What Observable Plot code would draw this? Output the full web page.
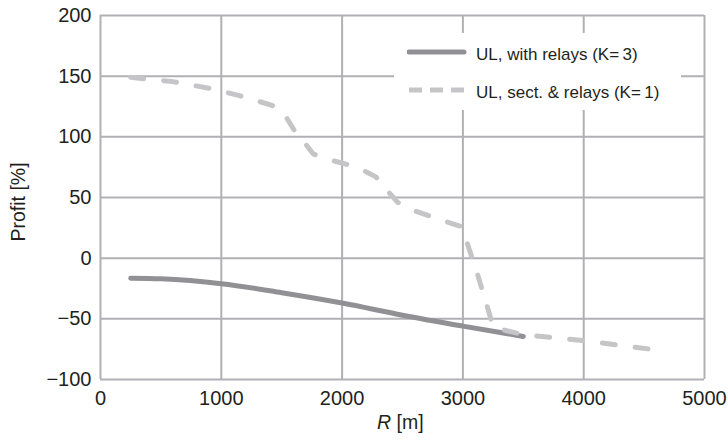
<!DOCTYPE html>
<html>
<head>
<meta charset="utf-8">
<script src="https://cdn.jsdelivr.net/npm/d3@7"></script>
<script src="https://cdn.jsdelivr.net/npm/@observablehq/plot@0.6"></script>
<style>
  body { margin: 0; background: #fff; font-family: "Liberation Sans", Arial, sans-serif; }
  #wrap { position: relative; width: 728px; height: 443px; overflow: hidden; }
  #wrap svg text { font-family: "Liberation Sans", Arial, sans-serif; }
  .lab { position: absolute; font-size: 19.5px; line-height: 1; color: #231f20; white-space: nowrap; }
  #legend { position: absolute; left: 394px; top: 33px; width: 287px; height: 77px; background: #fff; }
  #legend .row { position: absolute; left: 0; display: flex; align-items: center; font-size: 17px; line-height: 1; color: #231f20; }
</style>
</head>
<body>
<div id="wrap"></div>
<script>
// ---- data ----
const seriesNames = ["UL, with relays (K=\u20093)", "UL, sect. & relays (K=\u20091)"];
const R_relays = [250, 500, 1000, 1500, 2000, 2500, 3000, 3500];
const profit_relays = [-16.5, -17, -21, -28.5, -37, -47, -56, -64.5];
const R_sect = [250, 600, 900, 1150, 1420, 1520, 1600, 1690, 1760, 1900, 2050, 2180, 2280, 2380, 2460, 2600, 2850, 2990, 3030, 3120, 3220, 3250, 3370, 3500, 4000, 4550];
const profit_sect = [149, 145.5, 140, 134, 126, 119, 106, 95, 86, 81, 77, 72, 67, 55, 46, 39, 30.5, 26, 14, -13, -46, -57, -60, -63, -68, -75];
const xTicks = [0, 1000, 2000, 3000, 4000, 5000];
const yTicks = [-100, -50, 0, 50, 100, 150, 200];

const colRelays = "#919195";
const colSect = "#c5c5c7";
const gridCol = "#b1b1b5";

const relays = R_relays.map((r, i) => ({R: r, P: profit_relays[i]}));
const sect = R_sect.map((r, i) => ({R: r, P: profit_sect[i]}));

const chart = Plot.plot({
  width: 728,
  height: 443,
  marginLeft: 100,
  marginRight: 24,
  marginTop: 15,
  marginBottom: 64,
  style: {fontFamily: "Liberation Sans, Arial, sans-serif", fontSize: "20px", color: "#231f20", background: "transparent"},
  x: {domain: [0, 5000], ticks: xTicks, label: null},
  y: {domain: [-100, 200], ticks: yTicks, label: null},
  marks: [
    Plot.ruleX(xTicks, {stroke: gridCol, strokeWidth: 2}),
    Plot.ruleY(yTicks, {stroke: gridCol, strokeWidth: 2}),
    Plot.axisX({ticks: xTicks, tickSize: 0, tickPadding: 11, tickFormat: d => String(d), fontSize: 20}),
    Plot.axisY({ticks: yTicks, tickSize: 0, tickPadding: 9, fontSize: 20}),
    Plot.line(relays, {x: "R", y: "P", stroke: colRelays, strokeWidth: 5, strokeLinecap: "round", curve: "monotone-x"}),
    Plot.line(sect, {x: "R", y: "P", stroke: colSect, strokeWidth: 5, strokeLinecap: "round", strokeLinejoin: "round", strokeDasharray: "13,20", curve: "linear"})
  ]
});
const wrap = document.getElementById("wrap");
wrap.appendChild(chart);

// legend
const legend = document.createElement("div");
legend.id = "legend";
const styles = [{stroke: colRelays, dash: null}, {stroke: colSect, dash: "13,8"}];
[19, 57].forEach((top, i) => {
  const row = document.createElement("div");
  row.className = "row";
  row.style.top = (top - 10) + "px";
  row.style.left = "13px";
  const svg = `<svg width="60" height="20" style="margin-right:9px;flex:none"><line x1="2" x2="57" y1="10" y2="10" stroke="${styles[i].stroke}" stroke-width="5" ${styles[i].dash ? `stroke-dasharray="${styles[i].dash}"` : ""} stroke-linecap="${styles[i].dash ? "butt" : "round"}"/></svg>`;
  row.innerHTML = svg + `<span style="position:relative;top:2px">${seriesNames[i]}</span>`;
  legend.appendChild(row);
});
wrap.appendChild(legend);

// axis titles
const xt = document.createElement("div");
xt.className = "lab";
xt.innerHTML = "<i>R</i> [m]";
xt.style.left = "377px";
xt.style.top = "413px";
wrap.appendChild(xt);
const yt = document.createElement("div");
yt.className = "lab";
yt.textContent = "Profit [%]";
yt.style.left = "19px";
yt.style.top = "202px";
yt.style.transform = "translate(-50%,-50%) rotate(-90deg)";
yt.style.position = "absolute";
wrap.appendChild(yt);
</script>
</body>
</html>
